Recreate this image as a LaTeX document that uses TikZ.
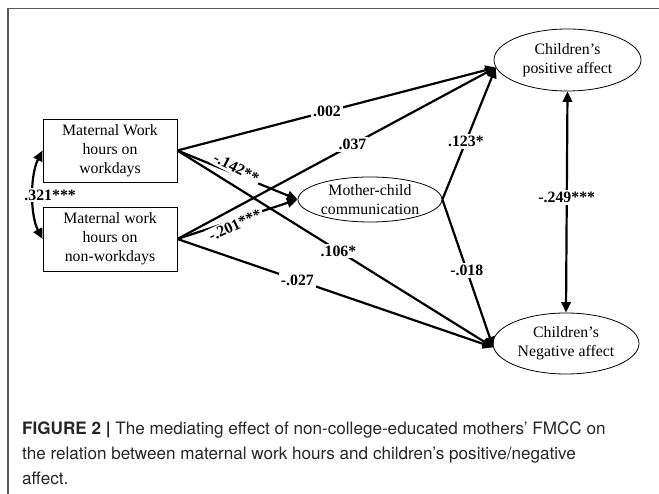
\documentclass[tikz,border=0pt]{standalone}
\usepackage{fontspec}
\setmainfont{Liberation Serif}
\newfontfamily\capfont{TeX Gyre Heros}
\usetikzlibrary{arrows.meta,shapes.geometric}
\begin{document}
\begin{tikzpicture}[x=1pt,y=-1pt,
  box/.style={draw, line width=0.8pt, minimum width=134pt, minimum height=63pt, align=center, inner sep=0pt, font=\fontsize{15.8}{19}\selectfont},
  ell/.style={draw, ellipse, line width=0.8pt, align=center, inner sep=0pt, font=\fontsize{15.8}{19}\selectfont},
  arr/.style={line width=2.2pt, -{Triangle[length=10.5pt,width=9.5pt]}},
  darr/.style={line width=2.2pt, {Triangle[length=10.5pt,width=9.5pt]}-{Triangle[length=10.5pt,width=9.5pt]}},
  lab/.style={fill=white, inner sep=2pt, font=\fontsize{15.8}{18}\selectfont\bfseries},
  captext/.style={anchor=base west, inner sep=0pt, text=black!85, font=\capfont\fontsize{17.1}{20}\selectfont}]
\useasboundingbox (0,0) rectangle (659,494);
\draw[black!65, line width=1.2pt] (8,494) -- (8,8.5) -- (659,8.5);

\node[box] (w1) at (110,150.5) {Maternal Work\\hours on\\workdays};
\node[box, minimum height=64pt] (w2) at (110,239) {Maternal work\\hours on\\non-workdays};
\node[ell, minimum width=144pt, minimum height=45pt] (mc) at (370,199.5) {Mother-child\\communication};
\node[ell, minimum width=147pt, minimum height=62pt] (pa) at (567.5,60) {Children’s\\positive affect};
\node[ell, minimum width=146pt, minimum height=61pt] (na) at (566,343.5) {Children’s\\Negative affect};

% paths into the mediator (drawn first)
\draw[arr] (w1.east) -- node[lab, pos=0.49, yshift=6.5pt, rotate=-27] {-.142**} (mc.west);
\draw[arr] (w2.east) -- node[lab, pos=0.48, yshift=-5pt, rotate=25] {-.201***} (mc.west);

% paths to positive affect
\draw[arr] (w1.east) -- node[lab, pos=0.47] {.002} (pa.186);
\draw[arr] (w2.east) -- node[lab, pos=0.55] {.037} (pa.186);
\draw[arr] (mc.east) -- node[lab, pos=0.44] {.123*} (pa.186);

% paths to negative affect
\draw[arr] (w1.east) -- node[lab, pos=0.51] {.106*} (na.183);
\draw[arr] (w2.east) -- node[lab, pos=0.38] {-.027} (na.183);
\draw[arr] (mc.east) -- node[lab, pos=0.48] {-.018} (na.183);

% correlations
\draw[darr] (pa.south) -- node[lab, pos=0.48] {-.249***} (na.north);
\draw[darr] (w1.west) .. controls (30,175) and (30,215) .. node[lab, pos=0.5, xshift=17pt] {.321***} (w2.west);

% caption
\node[captext] (c1) at (22,434) {\textbf{FIGURE 2 |} The mediating effect of non-college-educated mothers’ FMCC on};
\node[captext] (c2) at (22,459) {the relation between maternal work hours and children’s positive/negative};
\node[captext] (c3) at (22,484) {affect.};
\end{tikzpicture}
\end{document}
